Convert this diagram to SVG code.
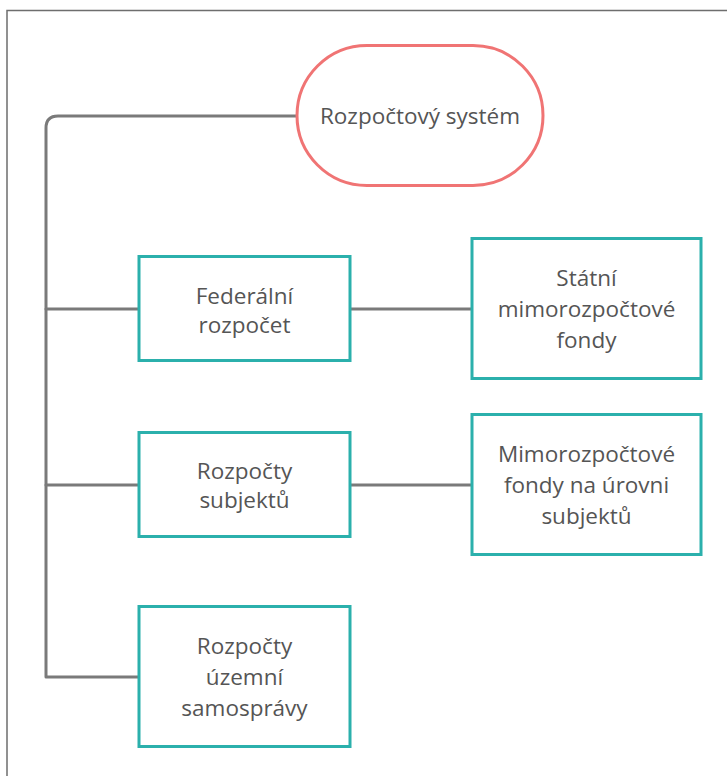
<svg xmlns="http://www.w3.org/2000/svg" width="727" height="776" viewBox="0 0 727 776">
<style>
.frame{fill:#ffffff;stroke:#6e6e6e;stroke-width:1.5}
.box{fill:#ffffff;stroke:#2bb0ac;stroke-width:3}
.pill{fill:#ffffff;stroke:#f07474;stroke-width:3}
.conn{fill:none;stroke:#7a7a7a;stroke-width:3;stroke-linecap:round;stroke-linejoin:round}
text{font-family:"Open Sans","Noto Sans","Liberation Sans",sans-serif;font-size:22.5px;fill:#555555;text-anchor:middle}
</style>
<rect class="frame" x="7" y="10.5" width="730" height="780"/>
<g id="connectors">
<path class="conn" d="M297 116 H58 Q46 116 46 128 V677 H139"/>
<path class="conn" d="M46 309 H139"/>
<path class="conn" d="M46 485 H139"/>
<path class="conn" d="M350 309 H472"/>
<path class="conn" d="M350 485 H472"/>
</g>
<g id="n-root">
<rect class="pill" x="297" y="45.5" width="246" height="140" rx="70" ry="70"/>
<text x="420" y="124">Rozpočtový systém</text>
</g>
<g id="n-federal">
<rect class="box" x="139" y="256.5" width="211" height="104"/>
<text x="244.5" y="304">Federální</text>
<text x="244.5" y="333">rozpočet</text>
</g>
<g id="n-statni">
<rect class="box" x="472" y="238.5" width="229" height="140"/>
<text x="586.5" y="286">Státní</text>
<text x="586.5" y="317">mimorozpočtové</text>
<text x="586.5" y="348">fondy</text>
</g>
<g id="n-subjekty">
<rect class="box" x="139" y="432.5" width="211" height="104"/>
<text x="244.5" y="479">Rozpočty</text>
<text x="244.5" y="508">subjektů</text>
</g>
<g id="n-mimo">
<rect class="box" x="472" y="414.5" width="229" height="140"/>
<text x="586.5" y="462">Mimorozpočtové</text>
<text x="586.5" y="493">fondy na úrovni</text>
<text x="586.5" y="524">subjektů</text>
</g>
<g id="n-uzemni">
<rect class="box" x="139" y="606.5" width="211" height="140"/>
<text x="244.5" y="654">Rozpočty</text>
<text x="244.5" y="685">územní</text>
<text x="244.5" y="716">samosprávy</text>
</g>
</svg>
